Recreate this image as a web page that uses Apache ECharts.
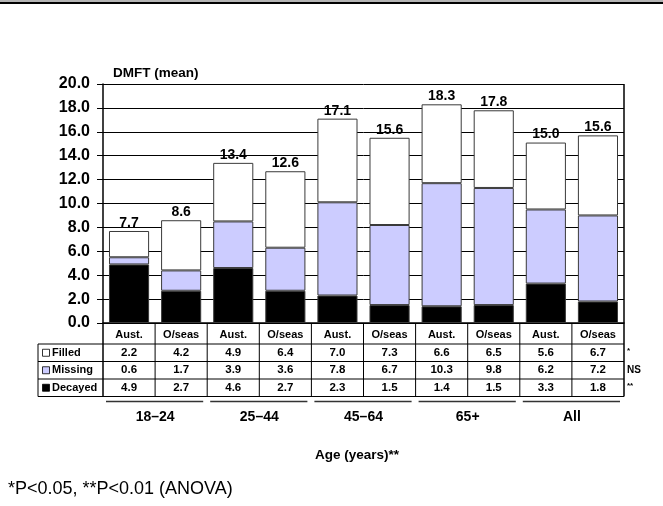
<!DOCTYPE html>
<html>
<head>
<meta charset="utf-8">
<script src="https://cdn.jsdelivr.net/npm/echarts@6/dist/echarts.min.js"></script>
<style>
  html, body { margin: 0; padding: 0; background: #fff; }
  #chart { width: 663px; height: 506px; }
</style>
</head>
<body>
<div id="chart"></div>
<script>
// DMFT (mean) by age group and country of birth
const groups = ['18–24', '25–44', '45–64', '65+', 'All'];
const birthplace = ['Aust.', 'O/seas', 'Aust.', 'O/seas', 'Aust.', 'O/seas', 'Aust.', 'O/seas', 'Aust.', 'O/seas'];
const filled  = [2.2, 4.2, 4.9, 6.4, 7.0, 7.3, 6.6, 6.5, 5.6, 6.7];
const missing = [0.6, 1.7, 3.9, 3.6, 7.8, 6.7, 10.3, 9.8, 6.2, 7.2];
const decayed = [4.9, 2.7, 4.6, 2.7, 2.3, 1.5, 1.4, 1.5, 3.3, 1.8];
const totals  = [7.7, 8.6, 13.4, 12.6, 17.1, 15.6, 18.3, 17.8, 15.0, 15.6];
const rowNames = ['Filled', 'Missing', 'Decayed'];
const rowSignif = ['*', 'NS', '**'];
const yTicks = { min: 0, max: 20, interval: 2 };

const FONT = 'Arial, "Liberation Sans", sans-serif';
const colors = { Filled: '#ffffff', Missing: '#ccccff', Decayed: '#000000' };
const edge = '#3a3a3a';

const chart = echarts.init(document.getElementById('chart'), null, { renderer: 'canvas' });

const GRID = { left: 103, right: 39, top: 84, bottom: 183 };

chart.setOption({
  animation: false,
  backgroundColor: '#ffffff',
  grid: GRID,
  xAxis: {
    type: 'category',
    data: birthplace,
    axisLine: { show: true, lineStyle: { color: '#000', width: 1.5 } },
    axisTick: { show: false },
    axisLabel: {
      interval: 0, margin: 6,
      color: '#000', fontFamily: FONT, fontWeight: 'bold', fontSize: 11
    }
  },
  yAxis: {
    type: 'value',
    min: yTicks.min, max: yTicks.max, interval: yTicks.interval,
    name: 'DMFT (mean)',
    nameLocation: 'end',
    nameGap: 4,
    nameTextStyle: {
      color: '#000', fontFamily: FONT, fontWeight: 'bold', fontSize: 13.5,
      align: 'left', padding: [0, 0, 0, 10]
    },
    axisLine: { show: true, lineStyle: { color: '#000', width: 1.5 } },
    axisTick: { show: true, length: 6, lineStyle: { color: '#000', width: 1 } },
    axisLabel: {
      margin: 13,
      formatter: v => v.toFixed(1),
      color: '#000', fontFamily: FONT, fontWeight: 'bold', fontSize: 16
    },
    splitLine: { show: true, lineStyle: { color: '#000', width: 1 } }
  },
  series: [
    {
      name: 'Decayed', type: 'bar', stack: 'dmft', data: decayed,
      barCategoryGap: '23%',
      itemStyle: { color: colors.Decayed, borderColor: edge, borderWidth: 1 }
    },
    {
      name: 'Missing', type: 'bar', stack: 'dmft', data: missing,
      itemStyle: { color: colors.Missing, borderColor: edge, borderWidth: 1 }
    },
    {
      name: 'Filled', type: 'bar', stack: 'dmft', data: filled,
      itemStyle: { color: colors.Filled, borderColor: edge, borderWidth: 1 },
      label: {
        show: true, position: 'top', distance: 1,
        formatter: p => totals[p.dataIndex].toFixed(1),
        color: '#000', fontFamily: FONT, fontWeight: 'bold', fontSize: 14
      }
    }
  ]
});

// Data table, group labels and frame, placed from the axis scales
function buildGraphics() {
  const n = birthplace.length;
  const xOf = i => chart.convertToPixel({ xAxisIndex: 0 }, i);
  const yOf = v => chart.convertToPixel({ yAxisIndex: 0 }, v);
  const step = xOf(1) - xOf(0);
  const left = xOf(0) - step / 2;
  const right = xOf(n - 1) + step / 2;
  const yTop = yOf(yTicks.max);
  const y0 = yOf(0);

  const tableLeft = 38;
  const rowTop = y0 + 21;
  const rowH = 17.5;
  const tableBottom = rowTop + rowH * rowNames.length;
  const els = [];
  const line = (x1, y1, x2, y2, w, c) => els.push({
    type: 'line', shape: { x1, y1, x2, y2 }, silent: true,
    style: { stroke: c || '#000', lineWidth: w || 1 }
  });
  const text = (x, y, t, size, align, weight) => els.push({
    type: 'text', x, y, silent: true,
    style: {
      text: t, fill: '#000', fontFamily: FONT, fontSize: size,
      fontWeight: weight || 'bold', align: align || 'center', verticalAlign: 'middle'
    }
  });

  // top rule
  els.push({ type: 'rect', shape: { x: 0, y: 0, width: 663, height: 2 }, style: { fill: '#b4b4b4' }, silent: true });
  els.push({ type: 'rect', shape: { x: 0, y: 2, width: 663, height: 2 }, style: { fill: '#000' }, silent: true });

  // plot frame right edge, continuing down the table
  line(right, yTop, right, tableBottom, 1.5);
  // left axis continues through table
  line(left, y0, left, tableBottom, 1.5);

  // header column dividers
  for (let k = 1; k < n; k++) {
    const x = left + step * k;
    line(x, y0, x, tableBottom, 1);
  }
  // row rules
  for (let r = 0; r <= rowNames.length; r++) {
    const y = rowTop + rowH * r;
    line(tableLeft, y, right, y, 1);
  }
  line(tableLeft, rowTop, tableLeft, tableBottom, 1);

  // row labels with swatches, values and significance marks
  const rows = [filled, missing, decayed];
  rowNames.forEach((name, r) => {
    const cy = rowTop + rowH * (r + 0.5);
    els.push({
      type: 'rect', silent: true,
      shape: { x: 42.5, y: cy - 3.5, width: 7, height: 7 },
      style: { fill: colors[name], stroke: '#000', lineWidth: 0.8 }
    });
    text(52, cy, name, 11, 'left');
    rows[r].forEach((v, i) => text(xOf(i), cy, v.toFixed(1), 11.5));
    const sig = rowSignif[r];
    text(right + 3, cy - (sig === 'NS' ? 0 : 2), sig, sig === 'NS' ? 10 : 8, 'left');
  });

  // age group underlines and names
  groups.forEach((g, k) => {
    const x1 = left + step * 2 * k;
    const x2 = x1 + step * 2;
    line(x1 + 3, tableBottom + 5, x2 - 4, tableBottom + 5, 1.5, '#333');
    text((x1 + x2) / 2, tableBottom + 21, g, 14);
  });

  text(357, 455, 'Age (years)**', 13.5);
  text(8, 489, '*P<0.05, **P<0.01 (ANOVA)', 18, 'left', 'normal');

  chart.setOption({ graphic: { elements: els } });
}
buildGraphics();
</script>
</body>
</html>
